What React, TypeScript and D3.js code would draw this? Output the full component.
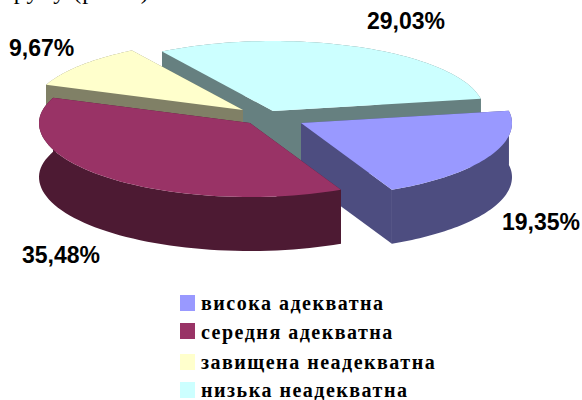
import React from "react";
import * as d3 from "d3";

const categories = ["висока адекватна", "середня адекватна", "завищена неадекватна", "низька неадекватна"];
const values = [19.35, 35.48, 9.67, 29.03];
const valueLabels = ["19,35%", "35,48%", "9,67%", "29,03%"];
const topColors = ["#9999FF", "#993366", "#FFFFCC", "#CCFFFF"];
const wallColors = ["#4D4D80", "#4D1A33", "#808066", "#668080"];
const apexX = [301, 250, 243, 273];
const apexY = [123, 123, 110, 111];
const labelX = [502, 22, 9, 367];
const labelY = [230, 263, 56, 29];
const legendY = [295, 323, 354, 382];
const legendBase = [310, 339, 369, 397];
const drawOrder = [3, 2, 0, 1];

const RX = 211;
const RY_BACK = 70;
const RY_FRONT = 74;
const DEPTH = 54;
const START = (80 * Math.PI) / 180;

export default function App() {
  const pie = d3.pie<number>().sort(null).startAngle(START).endAngle(START + 2 * Math.PI);
  const arcs = pie(values);
  const line = d3.line<[number, number]>();
  const xScale = d3.scaleLinear().domain([0, 1]).range([0, RX]);
  const yScale = d3.scaleLinear().domain([-1, 0, 1]).range([RY_FRONT, 0, -RY_BACK]);
  const rim = (i: number, dy: number, rev = false) => {
    const { startAngle, endAngle } = arcs[i];
    const n = 60;
    const pts = d3.range(n + 1).map((k) => {
      const a = startAngle + ((endAngle - startAngle) * k) / n;
      return [apexX[i] + xScale(Math.sin(a)), apexY[i] + yScale(Math.cos(a)) + dy] as [number, number];
    });
    return rev ? pts.reverse() : pts;
  };
  return (
    <svg width={582} height={400} style={{ position: "absolute", left: 0, top: 0, background: "#fff" }}>
      <text x={3} y={-1} fontFamily="Liberation Serif" fontSize={24} letterSpacing={1}>групу (рис.4).</text>
      {drawOrder.map((i) => {
        const top = rim(i, 0);
        const first = top[0];
        const last = top[top.length - 1];
        const ax = apexX[i];
        const ay = apexY[i];
        const wall = wallColors[i];
        return (
          <g key={i}>
            <path fill={wall} d={line([[ax, ay], first, [first[0], first[1] + DEPTH], [ax, ay + DEPTH]]) + "Z"} />
            <path fill={wall} d={line([[ax, ay], last, [last[0], last[1] + DEPTH], [ax, ay + DEPTH]]) + "Z"} />
            <path fill={wall} d={line([...top, ...rim(i, DEPTH, true)]) + "Z"} />
            <path fill={topColors[i]} d={line([[ax, ay], ...top]) + "Z"} />
          </g>
        );
      })}
      {valueLabels.map((t, i) => (
        <text key={t} x={labelX[i]} y={labelY[i]} fontFamily="Liberation Sans" fontWeight="bold" fontSize={23} fill="#000">{t}</text>
      ))}
      {categories.map((c, i) => (
        <g key={c}>
          <rect x={180} y={legendY[i]} width={15} height={16} fill={topColors[i]} />
          <text x={201} y={legendBase[i]} fontFamily="Liberation Serif" fontWeight="bold" fontSize={20} letterSpacing={1.5} fill="#000">{c}</text>
        </g>
      ))}
    </svg>
  );
}
